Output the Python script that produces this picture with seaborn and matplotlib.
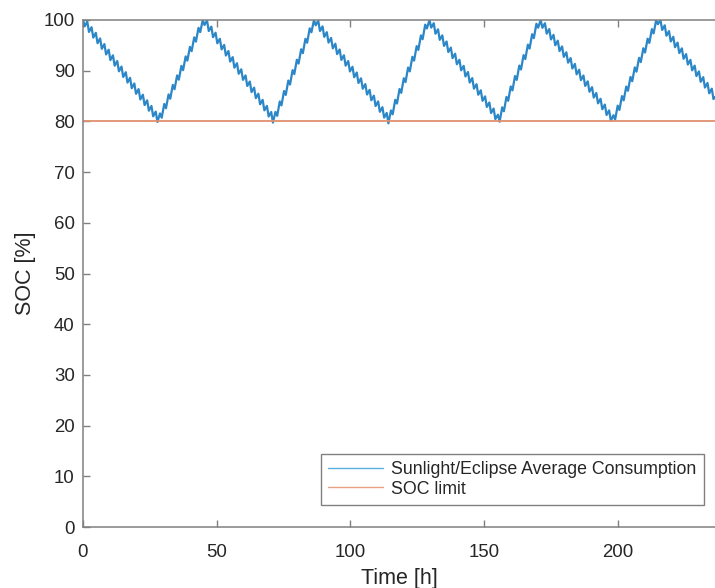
import numpy as np
import pandas as pd
import matplotlib
matplotlib.use("Agg")
import matplotlib.pyplot as plt
import seaborn as sns

# ---- data ----
# turning points of the SOC envelope (time [h], SOC [%])
turn_times = [0.0, 28.4, 45.2, 71.4, 86.7, 114.4, 129.3, 155.5, 170.8, 198.3, 215.0, 236.4]
turn_soc = [100.0, 80.3, 100.0, 80.3, 100.0, 80.3, 100.0, 80.3, 100.0, 80.3, 100.0, 84.8]
# per-orbit sunlight/eclipse ripple
orbit_period_h = 1.6
ripple_amplitude = 1.6
eclipse_fraction = 0.4
soc_limit = 80.0
series_names = ["Sunlight/Eclipse Average Consumption", "SOC limit"]
x_ticks = [0, 50, 100, 150, 200]
y_ticks = list(range(0, 101, 10))

# ---- build the series ----
n_orbits = int(np.ceil(turn_times[-1] / orbit_period_h))
t = []
off = []
for k in range(n_orbits + 1):
    t0 = k * orbit_period_h
    t.extend([t0, t0 + eclipse_fraction * orbit_period_h])
    off.extend([ripple_amplitude / 2, -ripple_amplitude / 2])
t = np.array(t)
off = np.array(off)
keep = t <= turn_times[-1]
t, off = t[keep], off[keep]
t = np.append(t, turn_times[-1])
off = np.append(off, 0.0)
trend = np.interp(t, turn_times, turn_soc)
soc = np.clip(trend + off, None, 100.0)

df = pd.DataFrame({"Time": t, "SOC": soc})
df_lim = pd.DataFrame({"Time": [0.0, turn_times[-1]], "SOC": [soc_limit, soc_limit]})

# ---- plot ----
sns.set_theme(style="ticks")
plt.rcParams["font.family"] = ["Liberation Sans", "DejaVu Sans"]

fig = plt.figure(figsize=(7.15, 5.88), dpi=100)
ax = fig.add_axes([83 / 715, 61 / 588, 632 / 715, 507 / 588])

sns.lineplot(data=df, x="Time", y="SOC", ax=ax, color="#2b87c8", linewidth=1.6,
             label=series_names[0], estimator=None, sort=False)
sns.lineplot(data=df_lim, x="Time", y="SOC", ax=ax, color="#e0906e", linewidth=1.3,
             label=series_names[1], estimator=None)

ax.set_xlim(0, turn_times[-1])
ax.set_ylim(0, 100)
ax.set_xticks(x_ticks)
ax.set_yticks(y_ticks)
ax.set_xlabel("Time [h]", fontsize=15.5, color="#262626", labelpad=5)
ax.set_ylabel("SOC [%]", fontsize=15.5, color="#262626", labelpad=5)

axis_col = "#808080"
for s in ["left", "bottom", "top"]:
    ax.spines[s].set_visible(True)
    ax.spines[s].set_color(axis_col)
    ax.spines[s].set_linewidth(1.1)
ax.spines["right"].set_visible(False)
ax.tick_params(axis="both", direction="in", length=5, width=1, color=axis_col,
               labelsize=13.4, labelcolor="#262626", top=True)
ax.tick_params(axis="x", pad=12)
ax.tick_params(axis="y", pad=6)

leg = ax.legend(loc="lower right", bbox_to_anchor=(0.9826, 0.0434), borderaxespad=0,
                fontsize=12.8, frameon=True, fancybox=False, handlelength=3.1,
                handletextpad=0.45, labelspacing=0.12, borderpad=0.42)
leg.get_frame().set_edgecolor("#808080")
leg.get_frame().set_linewidth(1.0)
leg.get_frame().set_alpha(1)
for line, c in zip(leg.get_lines(), ["#5aaee0", "#e8a080"]):
    line.set_color(c)
    line.set_linewidth(1.0)

fig.savefig("out.png", dpi=100)
